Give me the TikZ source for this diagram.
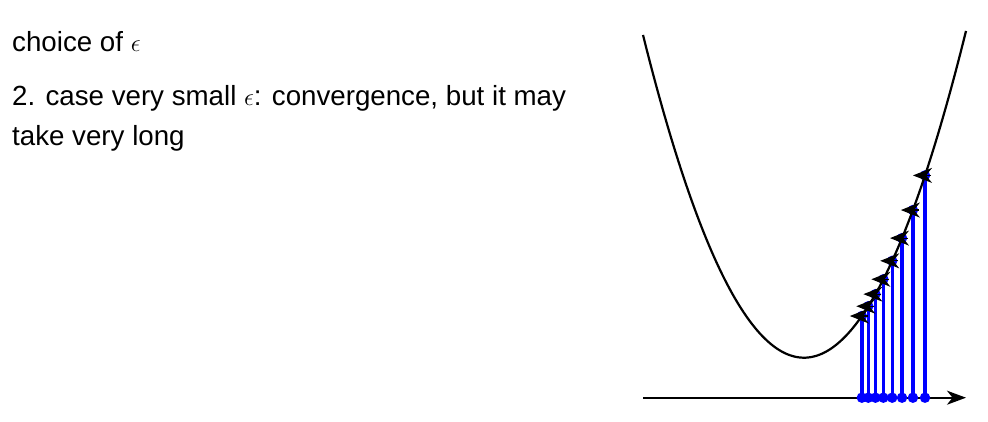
\documentclass[tikz,border=0pt]{standalone}
\usepackage{fontspec}
\setmainfont{Liberation Sans}
\usetikzlibrary{arrows.meta}
\begin{document}
\begin{tikzpicture}[x=1pt,y=-1pt,
  curveline/.style={line width=2.2pt,black},
  axisline/.style={line width=1.8pt,black,-{Stealth[length=19pt,width=14pt,inset=5.5pt]}},
  stemline/.style={line width=3.4pt,blue},
  stemdot/.style={circle,fill=blue,inner sep=0pt,minimum size=10.5pt},
  steparrow/.style={line width=1.2pt,black,-{Stealth[length=19pt,width=15pt,inset=6pt]}},
  txt/.style={anchor=base west,inner sep=0pt,font=\fontsize{27.7}{39.7}\selectfont}
]
\useasboundingbox (0,0) rectangle (988,422);
% text
\node[txt] (t1) at (12,51.7) {choice of $\epsilon$};
\node[txt] (t2) at (12,106) {2. case very small $\epsilon$: convergence, but it may};
\node[txt] (t3) at (12,145.7) {take very long};
% axis
\coordinate (axL) at (643,397.7);
\coordinate (axR) at (966,397.7);
\draw[axisline] (axL) -- (axR);
% stems
\foreach \k in {0,...,7}{
  \pgfmathsetmacro{\xx}{804+121*0.9^\k}
  \pgfmathsetmacro{\yy}{357.7-1.245*((\xx-804)/10)^2}
  \coordinate (p\k) at (\xx,\yy);
  \coordinate (b\k) at (\xx,397.7);
  \draw[stemline] (b\k) -- (p\k);
  \node[stemdot] (db\k) at (b\k) {};
  \node[stemdot] (dp\k) at (p\k) {};
}
% curve
\draw[curveline,domain=643:966,samples=120,smooth] plot (\x,{357.7-1.245*((\x-804)/10)^2});
% step arrows
\foreach \k in {0,...,7}{
  \coordinate (s\k) at ([xshift=6pt]p\k);
  \coordinate (e\k) at ([xshift=-12pt]p\k);
  \draw[steparrow] (s\k) -- (e\k);
}
\end{tikzpicture}
\end{document}
